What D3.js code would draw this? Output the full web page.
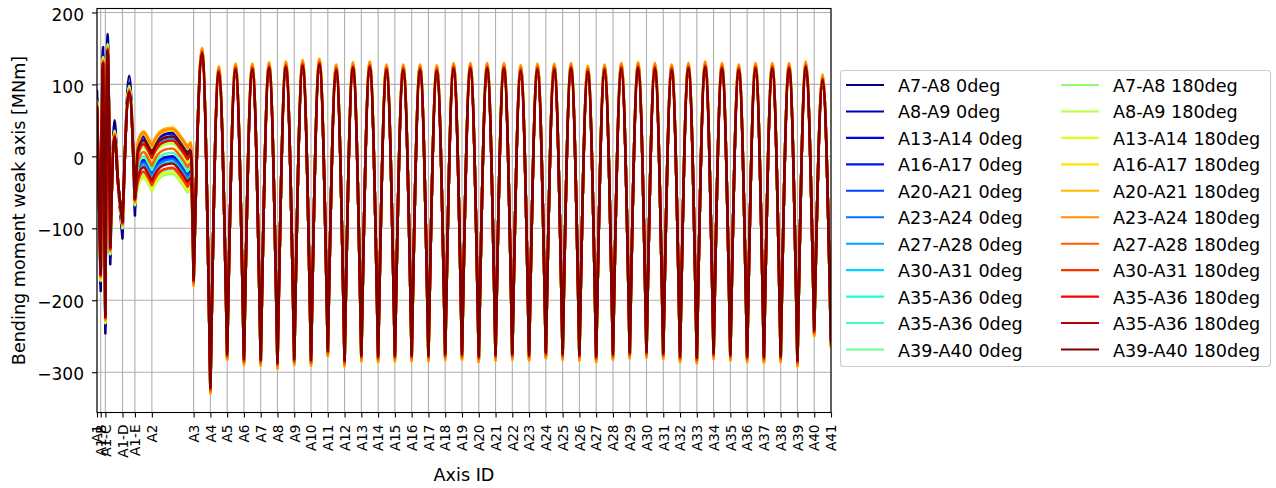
<!DOCTYPE html>
<html>
<head>
<meta charset="utf-8">
<script src="https://cdn.jsdelivr.net/npm/d3@7"></script>
<style>
	body { margin: 0; background: #ffffff; }
	text { font-family: "DejaVu Sans", sans-serif; fill: #000; }
</style>
</head>
<body>
<script>
//axis (support) names and their positions along the hull, in frame spacings
var axisNames = ["A1", "A1-B", "A1-C", "A1-D", "A1-E", "A2", "A3", "A4", "A5", "A6", "A7", "A8", "A9", "A10",
	"A11", "A12", "A13", "A14", "A15", "A16", "A17", "A18", "A19", "A20", "A21", "A22", "A23", "A24", "A25",
	"A26", "A27", "A28", "A29", "A30", "A31", "A32", "A33", "A34", "A35", "A36", "A37", "A38", "A39", "A40", "A41"];
var axisPos = [0, 0.22, 0.50, 1.52, 2.26, 3.27, 5.76, 6.76, 7.76, 8.76, 9.76, 10.76, 11.76, 12.76,
	13.76, 14.76, 15.76, 16.76, 17.76, 18.76, 19.76, 20.76, 21.76, 22.76, 23.76, 24.76, 25.76, 26.76, 27.76,
	28.76, 29.76, 30.76, 31.76, 32.76, 33.76, 34.76, 35.76, 36.76, 37.76, 38.76, 39.76, 40.76, 41.76, 42.76, 43.76];

//load cases (legend order = drawing order)
var seriesNames = ["A7-A8 0deg", "A8-A9 0deg", "A13-A14 0deg", "A16-A17 0deg", "A20-A21 0deg", "A23-A24 0deg",
	"A27-A28 0deg", "A30-A31 0deg", "A35-A36 0deg", "A35-A36 0deg", "A39-A40 0deg",
	"A7-A8 180deg", "A8-A9 180deg", "A13-A14 180deg", "A16-A17 180deg", "A20-A21 180deg", "A23-A24 180deg",
	"A27-A28 180deg", "A30-A31 180deg", "A35-A36 180deg", "A35-A36 180deg", "A39-A40 180deg"];

//reference line (dark red), A1 .. just before A3 [MNm]
var earlyX = [0, 0.22, 0.36, 0.50, 0.63, 0.79, 1.05, 1.25, 1.52, 1.92, 2.26, 2.45, 2.78, 3.05, 3.27, 3.5, 4.0, 4.5, 5.0, 5.4, 5.6];
var earlyY = [67, -163, 128, -222, 146, -126, 26, -35, -90, 88, -58, -10, 3, -6, -16, -5, 6, 8, -4, -18, -12];

//reference line at the supports A3 .. A41 and at the peaks between them [MNm]
var supportM = [-172, -322, -275, -282, -283, -287, -282, -283, -270, -284, -277, -278, -277, -277, -277, -275,
	-275, -278, -276, -275, -276, -273, -275, -276, -278, -275, -273, -272, -274, -278, -280, -274, -276, -278,
	-279, -278, -284, -242, -258];
var spanPeakM = [143, 117, 121, 121, 123, 124, 126, 128, 120, 123, 124, 120, 120, 120, 119, 122, 122, 122, 122,
	119, 121, 121, 122, 118, 120, 122, 123, 122, 120, 122, 124, 122, 120, 122, 122, 122, 124, 106];

//how far each case sticks out past the reference line [MNm]
var tipEarly = [24, 14, 10, 8, 6, 5, 5, 4, 5, 6, 8, 10, 9, 7, 6, 6, 5, 3, 3, 2, 1, 0]; //A1 .. A1-E spikes
var bandShift = [26, -8, 24, -10, 18, -12, 16, -16, 14, -3, -26, -32, 10, -30, 28, 32, 30, 3, -24, 14, -18, 20]; //A1-E .. A3
var swingMain = [3, 2, 4, 5, 4, 2, 1, 2, 3, 2, 4, 5, 4, 5, 6, 8, 7, -6, 3, -10, -3, 0]; //A3 .. A41

var yTicks = [-300, -200, -100, 0, 100, 200];

//matplotlib "jet" colormap segments
var jetR = [[0, 0], [0.35, 0], [0.66, 1], [0.89, 1], [1, 0.5]];
var jetG = [[0, 0], [0.125, 0], [0.375, 1], [0.64, 1], [0.91, 0], [1, 0]];
var jetB = [[0, 0.5], [0.11, 1], [0.34, 1], [0.65, 0], [1, 0]];

window.onload = function(){

	var w = 1276, h = 488;
	var left = 97, right = 831, top = 8.5, bottom = 412.5;

	var svg = d3.select("body")
		.append("svg")
		.attr("width", w)
		.attr("height", h)
		.style("background-color", "#ffffff");

	var x = d3.scaleLinear()
		.domain([axisPos[0], axisPos[axisPos.length - 1]])
		.range([left, right]);

	var y = d3.scaleLinear()
		.domain([-356, 205.5])
		.range([bottom, top]);

	//jet colour for position t in [0,1]
	function seg(pts, t){
		for (var i = 1; i < pts.length; i++){
			if (t <= pts[i][0]){
				var f = (t - pts[i - 1][0]) / (pts[i][0] - pts[i - 1][0]);
				return pts[i - 1][1] + f * (pts[i][1] - pts[i - 1][1]);
			}
		}
		return pts[pts.length - 1][1];
	}
	function jet(t){
		return d3.rgb(seg(jetR, t) * 255, seg(jetG, t) * 255, seg(jetB, t) * 255).toString();
	}
	var color = function(i){ return jet(i / (seriesNames.length - 1)); };

	//grid
	var grid = svg.append("g").attr("class", "grid");
	grid.selectAll(".gx")
		.data(axisPos)
		.enter()
		.append("line")
		.attr("x1", function(d){ return x(d); })
		.attr("x2", function(d){ return x(d); })
		.attr("y1", top)
		.attr("y2", bottom)
		.style("stroke", "#b0b0b0")
		.style("stroke-width", 1.1);
	grid.selectAll(".gy")
		.data(yTicks)
		.enter()
		.append("line")
		.attr("x1", left)
		.attr("x2", right)
		.attr("y1", function(d){ return y(d); })
		.attr("y2", function(d){ return y(d); })
		.style("stroke", "#b0b0b0")
		.style("stroke-width", 1.1);

	//knots of the reference line
	var knots = [];
	earlyX.forEach(function(u, i){
		knots.push({x: u, y: earlyY[i], zone: u <= axisPos[4] ? "early" : "band"});
	});
	supportM.forEach(function(m, i){
		knots.push({x: axisPos[6 + i], y: m, zone: "main"});
		if (i < spanPeakM.length){
			knots.push({x: (axisPos[6 + i] + axisPos[7 + i]) / 2, y: spanPeakM[i], zone: "main"});
		}
	});
	//peaks (+1) and dips (-1)
	knots.forEach(function(k, i){
		var a = i > 0 ? knots[i - 1].y : knots[i + 1].y;
		var b = i < knots.length - 1 ? knots[i + 1].y : knots[i - 1].y;
		k.kind = (k.y > a && k.y > b) ? 1 : ((k.y < a && k.y < b) ? -1 : 0);
	});

	function seriesKnots(s){
		return knots.map(function(k){
			var v = k.y;
			if (k.zone == "early") v += k.kind * tipEarly[s];
			else if (k.zone == "band") v += bandShift[s];
			else v += k.kind * swingMain[s];
			return {x: k.x, y: v, kind: k.kind};
		});
	}

	var line = d3.line()
		.x(function(d){ return x(d.x); })
		.y(function(d){ return y(d.y); })
		.curve(d3.curveMonotoneX);

	//one smooth piece from dip to dip, so the dips stay sharp
	function pathFor(pts){
		var d = "", piece = [];
		pts.forEach(function(p){
			piece.push(p);
			if (p.kind == -1 && piece.length > 1){
				d += line(piece);
				piece = [p];
			}
		});
		if (piece.length > 1) d += line(piece);
		return d;
	}

	svg.append("clipPath")
		.attr("id", "plotclip")
		.append("rect")
		.attr("x", left)
		.attr("y", top)
		.attr("width", right - left)
		.attr("height", bottom - top);

	svg.append("g")
		.attr("clip-path", "url(#plotclip)")
		.selectAll(".series")
		.data(seriesNames)
		.enter()
		.append("path")
		.attr("class", "series")
		.attr("d", function(d, i){ return pathFor(seriesKnots(i)); })
		.style("fill", "none")
		.style("stroke", function(d, i){ return color(i); })
		.style("stroke-width", 2.6)
		.style("stroke-linejoin", "round")
		.style("stroke-linecap", "round");

	//y axis
	var yAxis = d3.axisLeft(y)
		.tickValues(yTicks)
		.tickSize(5)
		.tickPadding(8)
		.tickFormat(function(d){ return d < 0 ? "\u2212" + Math.abs(d) : d; });
	var yg = svg.append("g")
		.attr("transform", "translate(" + left + ",0)")
		.call(yAxis);
	yg.select(".domain").remove();
	yg.selectAll("line").style("stroke", "#000").style("stroke-width", 1.1);
	yg.selectAll("text")
		.attr("dy", "0.45em")
		.style("font-family", "DejaVu Sans")
		.style("font-size", "17px");

	//x axis
	var xAxis = d3.axisBottom(x)
		.tickValues(axisPos)
		.tickSize(5)
		.tickFormat(function(d, i){ return axisNames[i]; });
	var xg = svg.append("g")
		.attr("transform", "translate(0," + bottom + ")")
		.call(xAxis);
	xg.select(".domain").remove();
	xg.selectAll("line").style("stroke", "#000").style("stroke-width", 1.1);
	xg.selectAll("text")
		.attr("y", 0)
		.attr("x", -12)
		.attr("dy", "0.35em")
		.attr("transform", "rotate(-90)")
		.style("text-anchor", "end")
		.style("font-family", "DejaVu Sans")
		.style("font-size", "13.6px");

	//frame
	svg.append("rect")
		.attr("x", left)
		.attr("y", top)
		.attr("width", right - left)
		.attr("height", bottom - top)
		.style("fill", "none")
		.style("stroke", "#000")
		.style("stroke-width", 1.1);

	//axis titles
	svg.append("text")
		.attr("x", (left + right) / 2)
		.attr("y", 481)
		.attr("text-anchor", "middle")
		.style("font-size", "17.6px")
		.text("Axis ID");

	svg.append("text")
		.attr("transform", "translate(25," + ((top + bottom) / 2) + ") rotate(-90)")
		.attr("text-anchor", "middle")
		.style("font-size", "17.6px")
		.text("Bending moment weak axis [MNm]");

	//legend
	var legend = svg.append("g").attr("class", "legend");
	legend.append("rect")
		.attr("x", 840.5)
		.attr("y", 70.5)
		.attr("width", 430)
		.attr("height", 296)
		.attr("rx", 3)
		.style("fill", "#ffffff")
		.style("stroke", "#cccccc")
		.style("stroke-width", 1.1);

	var items = legend.selectAll(".item")
		.data(seriesNames)
		.enter()
		.append("g")
		.attr("class", "item")
		.attr("transform", function(d, i){
			var col = i < 11 ? 0 : 1;
			return "translate(" + (col ? 1061 : 846) + "," + (85 + (i % 11) * 26.45) + ")";
		});
	items.append("line")
		.attr("x1", 0)
		.attr("x2", 38)
		.style("stroke", function(d, i){ return color(i); })
		.style("stroke-width", 2.1);
	items.append("text")
		.attr("x", 52)
		.attr("y", 7)
		.style("font-size", "17.6px")
		.text(function(d){ return d; });
};
</script>
</body>
</html>
